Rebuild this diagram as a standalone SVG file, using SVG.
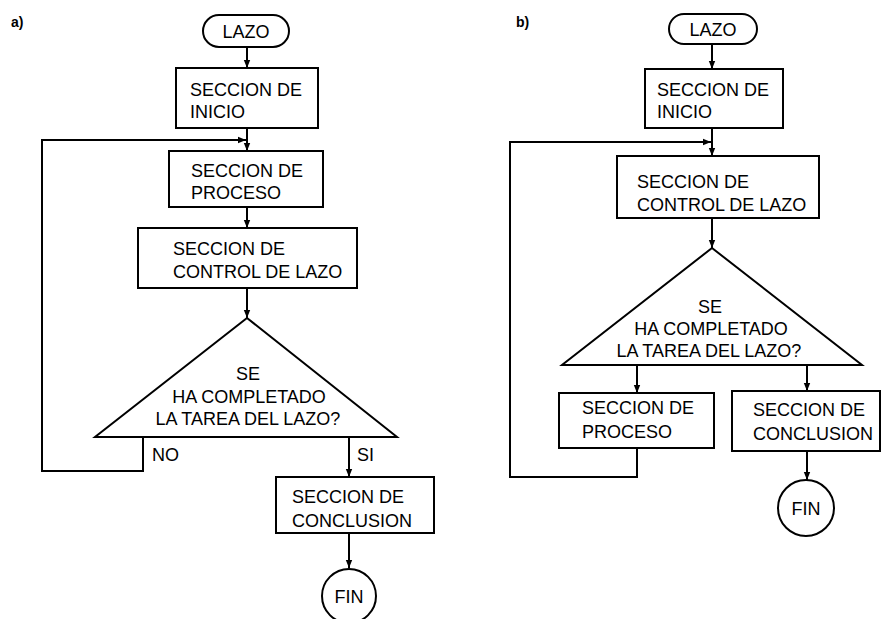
<svg xmlns="http://www.w3.org/2000/svg" width="885" height="619" viewBox="0 0 885 619">
  <style>
    .shape { fill: #fff; stroke: #000; stroke-width: 2; }
    .wire { fill: none; stroke: #000; stroke-width: 2; }
    .txt { font-family: "Liberation Sans", Arial, sans-serif; font-size: 18px; fill: #000; }
    .mid { text-anchor: middle; }
    .tag { font-family: "Liberation Sans", Arial, sans-serif; font-size: 14px; font-weight: bold; fill: #000; }
  </style>
  <defs>
    <marker id="arrow" markerUnits="userSpaceOnUse" markerWidth="8" markerHeight="8" viewBox="0 0 8 8" refX="8" refY="4" orient="auto">
      <path d="M0,0.8 L8,4 L0,7.2 Z" fill="#000"/>
    </marker>
  </defs>
  <rect width="885" height="619" fill="#fff"/>

  <!-- Flowchart a) -->
  <text class="tag" x="11" y="27">a)</text>
  <g id="connectors-a">
    <path class="wire" d="M247,47 V68" marker-end="url(#arrow)"/>
    <path class="wire" d="M247,128 V151" marker-end="url(#arrow)"/>
    <path class="wire" d="M247,207 V228" marker-end="url(#arrow)"/>
    <path class="wire" d="M247,288 V318" marker-end="url(#arrow)"/>
    <path class="wire" d="M143,437 V471 H42 V140 H246" marker-end="url(#arrow)"/>
    <path class="wire" d="M349,437 V477" marker-end="url(#arrow)"/>
    <path class="wire" d="M349,533 V568" marker-end="url(#arrow)"/>
  </g>
  <g id="a-lazo">
    <rect class="shape" x="203" y="15" width="86" height="32" rx="16" ry="16"/>
    <text class="txt mid" x="246" y="38">LAZO</text>
  </g>
  <g id="a-inicio">
    <rect class="shape" x="176" y="68" width="142" height="60"/>
    <text class="txt" x="190" y="96">SECCION DE</text>
    <text class="txt" x="190" y="118">INICIO</text>
  </g>
  <g id="a-proceso">
    <rect class="shape" x="169" y="151" width="154" height="56"/>
    <text class="txt" x="191" y="177">SECCION DE</text>
    <text class="txt" x="191" y="199">PROCESO</text>
  </g>
  <g id="a-control">
    <rect class="shape" x="138" y="228" width="219" height="60"/>
    <text class="txt" x="173" y="255">SECCION DE</text>
    <text class="txt" x="173" y="278">CONTROL DE LAZO</text>
  </g>
  <g id="a-decision">
    <polygon class="shape" points="247,318 397,437 95,437"/>
    <text class="txt mid" x="248" y="380">SE</text>
    <text class="txt mid" x="249" y="403">HA COMPLETADO</text>
    <text class="txt mid" x="248" y="425">LA TAREA DEL LAZO?</text>
  </g>
  <text class="txt" x="152" y="461">NO</text>
  <text class="txt" x="357" y="461">SI</text>
  <g id="a-conclusion">
    <rect class="shape" x="276" y="477" width="158" height="56"/>
    <text class="txt" x="292" y="503">SECCION DE</text>
    <text class="txt" x="292" y="527">CONCLUSION</text>
  </g>
  <g id="a-fin">
    <circle class="shape" cx="349" cy="596" r="27"/>
    <text class="txt mid" x="349" y="603">FIN</text>
  </g>

  <!-- Flowchart b) -->
  <text class="tag" x="516" y="27">b)</text>
  <g id="connectors-b">
    <path class="wire" d="M712,44 V69" marker-end="url(#arrow)"/>
    <path class="wire" d="M712,128 V156" marker-end="url(#arrow)"/>
    <path class="wire" d="M712,218 V248" marker-end="url(#arrow)"/>
    <path class="wire" d="M637,365 V393" marker-end="url(#arrow)"/>
    <path class="wire" d="M807,365 V391" marker-end="url(#arrow)"/>
    <path class="wire" d="M637,448 V477 H510 V142 H711" marker-end="url(#arrow)"/>
    <path class="wire" d="M807,451 V480" marker-end="url(#arrow)"/>
  </g>
  <g id="b-lazo">
    <rect class="shape" x="669" y="14" width="88" height="30" rx="15" ry="15"/>
    <text class="txt mid" x="713" y="36">LAZO</text>
  </g>
  <g id="b-inicio">
    <rect class="shape" x="645" y="69" width="138" height="59"/>
    <text class="txt" x="657" y="96">SECCION DE</text>
    <text class="txt" x="657" y="118">INICIO</text>
  </g>
  <g id="b-control">
    <rect class="shape" x="617" y="156" width="202" height="62"/>
    <text class="txt" x="637" y="188">SECCION DE</text>
    <text class="txt" x="637" y="211">CONTROL DE LAZO</text>
  </g>
  <g id="b-decision">
    <polygon class="shape" points="712,248 862,365 562,365"/>
    <text class="txt mid" x="710" y="313">SE</text>
    <text class="txt mid" x="711" y="335">HA COMPLETADO</text>
    <text class="txt mid" x="709" y="357">LA TAREA DEL LAZO?</text>
  </g>
  <g id="b-proceso">
    <rect class="shape" x="559" y="393" width="155" height="55"/>
    <text class="txt" x="582" y="414">SECCION DE</text>
    <text class="txt" x="582" y="438">PROCESO</text>
  </g>
  <g id="b-conclusion">
    <rect class="shape" x="732" y="391" width="148" height="60"/>
    <text class="txt" x="753" y="416">SECCION DE</text>
    <text class="txt" x="753" y="440">CONCLUSION</text>
  </g>
  <g id="b-fin">
    <circle class="shape" cx="806" cy="508" r="28"/>
    <text class="txt mid" x="806" y="515">FIN</text>
  </g>
</svg>
